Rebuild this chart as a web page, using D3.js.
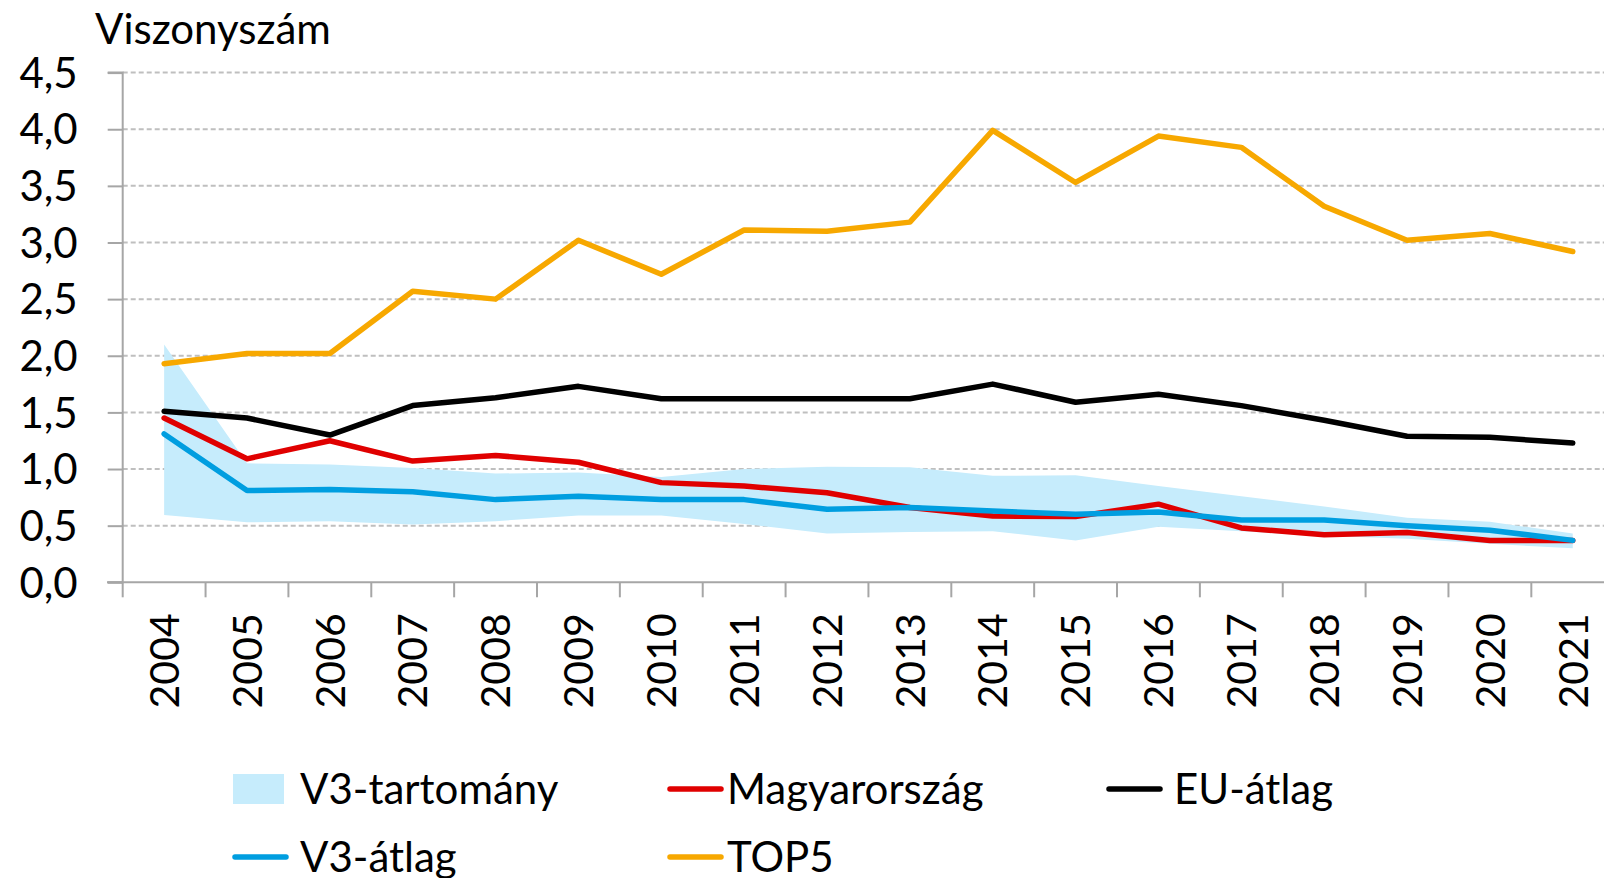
<!DOCTYPE html>
<html><head><meta charset="utf-8">
<script src="https://cdn.jsdelivr.net/npm/d3@7"></script>
<style>html,body{margin:0;padding:0;background:#fff;}svg{display:block;}</style>
</head><body>
<svg id="chart" width="1604" height="878"></svg>
<script>
const years = ["2004","2005","2006","2007","2008","2009","2010","2011","2012","2013","2014","2015","2016","2017","2018","2019","2020","2021"];
const v3Upper = [2.10,1.05,1.04,1.01,0.96,0.97,0.93,1.00,1.02,1.015,0.94,0.945,0.85,0.76,0.67,0.57,0.535,0.43];
const v3Lower = [0.595,0.53,0.54,0.51,0.54,0.59,0.59,0.515,0.43,0.445,0.45,0.37,0.49,0.45,0.41,0.385,0.34,0.30];
const hungary = [1.45,1.09,1.25,1.07,1.12,1.06,0.88,0.85,0.79,0.66,0.585,0.58,0.69,0.48,0.42,0.44,0.37,0.37];
const euAvg = [1.51,1.45,1.30,1.56,1.63,1.73,1.62,1.62,1.62,1.62,1.75,1.59,1.66,1.56,1.43,1.29,1.28,1.23];
const v3Avg = [1.31,0.81,0.82,0.80,0.73,0.76,0.73,0.73,0.645,0.66,0.63,0.60,0.62,0.55,0.55,0.50,0.46,0.37];
const top5 = [1.93,2.02,2.02,2.57,2.50,3.02,2.72,3.11,3.10,3.18,3.99,3.53,3.94,3.84,3.32,3.02,3.08,2.92];
const yTicks = [0,0.5,1,1.5,2,2.5,3,3.5,4,4.5];
const yTitle = "Viszonyszám";
const legendItems = [
  {label:"V3-tartomány", type:"area", color:"#c6ecfc"},
  {label:"Magyarország", type:"line", color:"#e00000"},
  {label:"EU-átlag", type:"line", color:"#000000"},
  {label:"V3-átlag", type:"line", color:"#009ee0"},
  {label:"TOP5", type:"line", color:"#f7a800"}
];

const FONT = "Lato, 'Liberation Sans', sans-serif";
const svg = d3.select("#chart");
const x = d3.scaleBand().domain(years).range([122.7, 122.7 + 18*82.86]);
const y = d3.scaleLinear().domain([0,4.5]).range([582.3, 72.6]);
const cx = d => x(d) + x.bandwidth()/2;

// gridlines
svg.append("g").selectAll("line").data(yTicks.filter(t=>t>0)).join("line")
  .attr("x1", 122.7).attr("x2", 1604).attr("y1", d=>y(d)).attr("y2", d=>y(d))
  .attr("stroke", "#bfbfbf").attr("stroke-width", 2).attr("stroke-dasharray", "5,3");

// band
const area = d3.area().x((d,i)=>cx(years[i])).y0((d,i)=>y(v3Lower[i])).y1((d,i)=>y(v3Upper[i]));
svg.append("path").attr("d", area(years)).attr("fill", "#c6ecfc");

// axes
const yAxis = d3.axisLeft(y).tickValues(yTicks).tickSize(15).tickFormat(d => d3.format(".1f")(d).replace(".", ","));
const gy = svg.append("g").attr("transform", "translate(122.7,0)").call(yAxis);
gy.select(".domain").attr("stroke", "#a6a6a6").attr("stroke-width", 2).attr("d", `M-15,${y(0)}H0V${y(4.5)}H-15`);
gy.selectAll(".tick line").attr("stroke", "#a6a6a6").attr("stroke-width", 2);
gy.selectAll(".tick text").attr("font-family", FONT).attr("font-size", 42).attr("fill", "#000").attr("x", -45).attr("dy", "0.35em");

const xAxisG = svg.append("g").attr("transform", `translate(0,${y(0)})`);
xAxisG.append("line").attr("x1", 107).attr("x2", 1604).attr("y1", 0).attr("y2", 0).attr("stroke", "#a6a6a6").attr("stroke-width", 2);
xAxisG.selectAll("line.tk").data(years.concat(["end"])).join("line").attr("class","tk")
  .attr("x1", (d,i)=>122.7 + i*x.bandwidth()).attr("x2", (d,i)=>122.7 + i*x.bandwidth())
  .attr("y1", 0).attr("y2", 15).attr("stroke", "#a6a6a6").attr("stroke-width", 2);
xAxisG.selectAll("text").data(years).join("text")
  .attr("transform", d => `translate(${cx(d)},31) rotate(-90)`)
  .attr("text-anchor", "end").attr("dy", "0.36em")
  .attr("font-family", FONT).attr("font-size", 41).text(d=>d);

// lines
const series = [
  {vals: hungary, color: "#e00000"},
  {vals: euAvg, color: "#000000"},
  {vals: v3Avg, color: "#009ee0"},
  {vals: top5, color: "#f7a800"}
];
const line = vals => d3.line().x((d,i)=>cx(years[i])).y(d=>y(d))(vals);
svg.append("g").selectAll("path").data(series).join("path")
  .attr("d", d=>line(d.vals)).attr("fill","none").attr("stroke", d=>d.color)
  .attr("stroke-width", 5.5).attr("stroke-linejoin","round").attr("stroke-linecap","round");

// y title
svg.append("text").attr("x", 95).attr("y", 44).attr("font-family", FONT).attr("font-size", 42).text(yTitle);

// legend
const legPos = [[233,789],[668,789],[1107,789],[233,857],[668,857]];
const textOff = [67, 59, 67, 67, 59];
const lg = svg.append("g");
legendItems.forEach((it,i)=>{
  const [lx,ly] = legPos[i];
  if (it.type === "area") {
    lg.append("rect").attr("x", lx).attr("y", ly-15).attr("width", 51).attr("height", 30).attr("fill", it.color);
  } else {
    lg.append("line").attr("x1", lx+2).attr("x2", lx+53).attr("y1", ly).attr("y2", ly)
      .attr("stroke", it.color).attr("stroke-width", 5.5).attr("stroke-linecap","round");
  }
  lg.append("text").attr("x", lx + textOff[i]).attr("y", ly).attr("dy","0.36em")
    .attr("font-family", FONT).attr("font-size", 42).text(it.label);
});
</script>
</body></html>
